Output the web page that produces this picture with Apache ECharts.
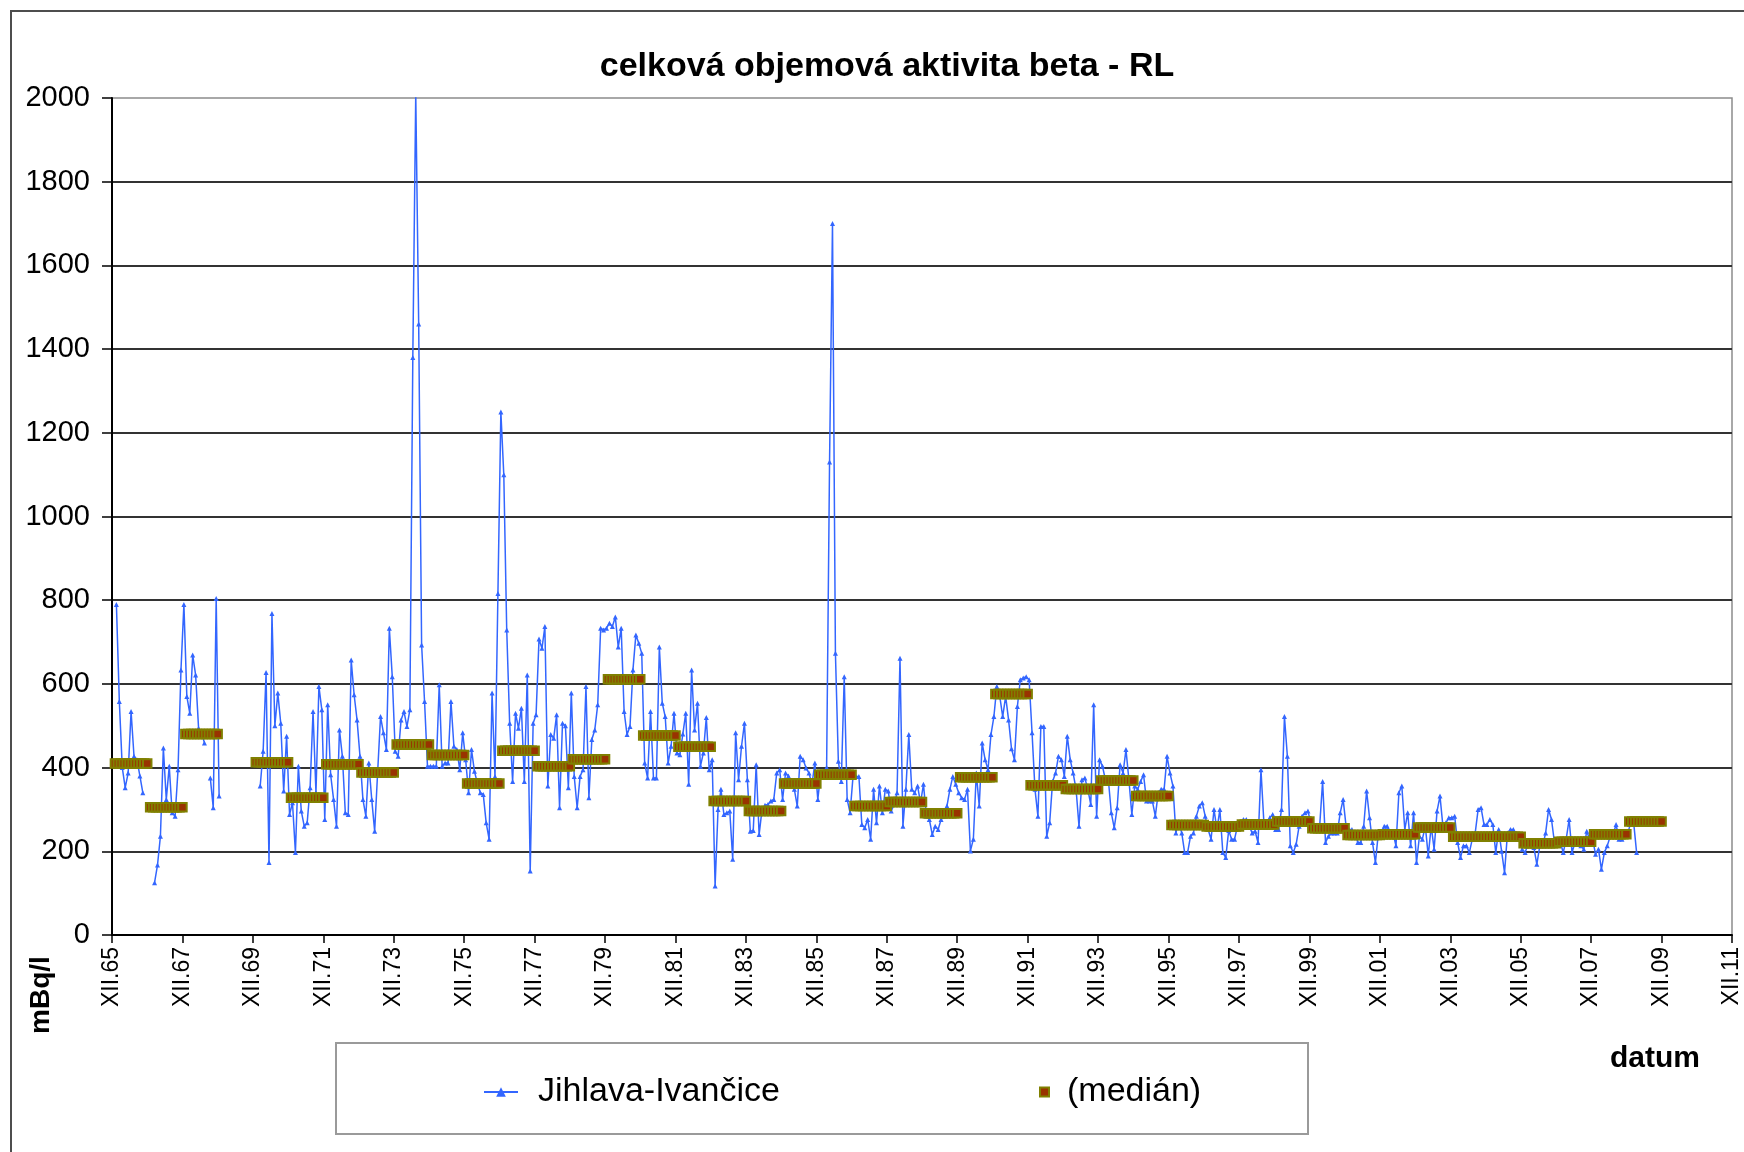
<!DOCTYPE html>
<html><head><meta charset="utf-8">
<script src="https://cdn.jsdelivr.net/npm/echarts@6/dist/echarts.min.js"></script>
<style>html,body{margin:0;padding:0;background:#fff}#c{width:1744px;height:1152px}</style>
</head><body><div id="c"></div>
<script>
// first year of the monthly rows below (row 0 = 1966, Jan..Dec)
const firstYear = 1966;
const seriesName = 'Jihlava-Ivančice';
const medianName = '(medián)';
// monthly measured values, mBq/l (null = no measurement)
const measured = [
  [790, 558, 400, 352, 387, 534, 427, 419, 380, 340, null, null],   // 1966
  [null, 125, 167, 236, 447, 324, 403, 292, 284, 395, 633, 790],    // 1967
  [570, 530, 669, 621, 494, 483, 459, null, 375, 304, 804, 332],    // 1968
  [null, null, null, null, null, null, null, null, null, null, null, null], // 1969
  [null, 356, 439, 627, 173, 768, 500, 578, 506, 344, 475, 288],    // 1970
  [316, 197, 403, 296, 260, 268, 352, 534, 340, 594, 538, 276],     // 1971
  [550, 383, 324, 260, 490, 427, 292, 288, 657, 574, 514, 427],     // 1972
  [324, 284, 411, 324, 248, 387, 522, 483, 443, 733, 617, 439],     // 1973
  [427, 514, 534, 498, 538, 1380, 2010, 1460, 693, 558, 403, 403],  // 1974
  [403, 403, 598, 403, 411, 411, 558, 451, 443, 395, 483, 419],     // 1975
  [340, 443, 391, 363, 340, 336, 268, 229, 578, 379, 816, 1250],    // 1976
  [1100, 729, 506, 367, 530, 494, 542, 367, 621, 153, 506, 526],    // 1977
  [707, 685, 737, 356, 479, 470, 526, 304, 506, 500, 352, 578],     // 1978
  [379, 304, 379, 395, 594, 328, 467, 490, 550, 733, 729, 733],     // 1979
  [745, 737, 760, 688, 733, 534, 479, 498, 633, 717, 697, 673],     // 1980
  [411, 375, 534, 375, 375, 688, 554, 522, 411, 451, 530, 435],     // 1981
  [431, 480, 530, 360, 633, 490, 554, 403, 435, 520, 395, 419],     // 1982
  [117, 300, 348, 288, 292, 296, 181, 483, 371, 451, 506, 371],     // 1983
  [248, 250, 407, 240, 300, 310, 312, 320, 324, 387, 395, 324],     // 1984
  [387, 380, 360, 348, 308, 427, 419, 399, 387, 360, 411, 324],     // 1985
  [387, 380, 400, 1130, 1700, 673, 415, 367, 617, 324, 292, 379],   // 1986
  [379, 379, 264, 256, 276, 229, 348, 268, 356, 292, 348, 344],     // 1987
  [296, 312, 340, 661, 260, 348, 479, 348, 340, 356, 316, 360],     // 1988
  [284, 276, 240, 260, 252, 276, 284, 308, 348, 379, 360, 340],     // 1989
  [328, 324, 348, 201, 229, 387, 308, 459, 419, 395, 479, 522],     // 1990
  [594, 570, 522, 570, 514, 445, 419, 546, 610, 614, 617, 610],     // 1991
  [483, 348, 284, 498, 498, 236, 268, 367, 387, 427, 419, 379],     // 1992
  [475, 419, 387, 348, 260, 371, 375, 348, 312, 550, 284, 419],     // 1993
  [403, 371, 371, 292, 256, 304, 407, 387, 443, 371, 288, 356],     // 1994
  [348, 367, 383, 320, 320, 320, 284, 340, 348, 348, 427, 387],     // 1995
  [356, 244, 268, 244, 197, 197, 236, 244, 284, 308, 316, 284],     // 1996
  [252, 229, 300, 252, 300, 197, 185, 250, 229, 229, 260, 268],     // 1997
  [276, 276, 260, 244, 248, 221, 395, 268, 268, 280, 288, 252],     // 1998
  [252, 300, 522, 427, 213, 197, 217, 260, 284, 292, 296, 268],     // 1999
  [260, 260, 260, 367, 221, 236, 244, 244, 244, 292, 324, 260],     // 2000
  [252, 252, 244, 221, 221, 260, 344, 280, 221, 173, 244, 244],     // 2001
  [260, 260, 244, 244, 213, 340, 356, 252, 292, 213, 292, 173],     // 2002
  [236, 229, 260, 189, 260, 205, 296, 332, 260, 268, 280, 280],     // 2003
  [284, 221, 185, 213, 213, 197, 229, 244, 300, 304, 264, 264],     // 2004
  [276, 264, 197, 252, 200, 149, 244, 252, 252, 240, 235, 205],     // 2005
  [197, 217, 213, 209, 169, 213, 213, 244, 300, 276, 221, 221],     // 2006
  [221, 197, 229, 276, 197, 221, 221, 213, 205, 248, 229, 229],     // 2007
  [193, 205, 157, 197, 213, 236, 240, 264, 229, 229, 240, 244],     // 2008
  [268, 268, 197, null, null, null, null, null, null, null, null, null] // 2009
];
// yearly medians, 1966..2009 (null = none)
const medians = [410, 305, 480, null, 413, 328, 408, 388, 455, 430, 362, 440, 403, 420,
  611, 477, 450, 320, 296, 362, 383, 308, 318, 291, 377, 576, 358, 349, 369, 332,
  263, 259, 264, 271, 255, 239, 241, 257, 235, 235, 219, 223, 241, 271];
// x tick labels, every 24 months from XII.1965
const xTickLabels = ['XII.65','XII.67','XII.69','XII.71','XII.73','XII.75','XII.77','XII.79',
  'XII.81','XII.83','XII.85','XII.87','XII.89','XII.91','XII.93','XII.95','XII.97','XII.99',
  'XII.01','XII.03','XII.05','XII.07','XII.09','XII.11'];

// x = month index counted from 1 December 1965; measurements sit mid-month
const lineData = [];
measured.forEach((row, i) => row.forEach((v, j) => lineData.push([i * 12 + j + 1.5, v])));
const medData = [];
medians.forEach((v, i) => { if (v != null) for (let j = 0; j < 12; j++) medData.push([i * 12 + j + 1, v]); });

const FONT = "'Liberation Sans', Arial, sans-serif";
const chart = echarts.init(document.getElementById('c'), null, {renderer: 'canvas'});
chart.setOption({
  animation: false,
  backgroundColor: '#ffffff',
  title: {
    text: 'celková objemová aktivita beta - RL',
    left: 882, top: 45, textAlign: 'center',
    textStyle: {fontSize: 34, fontWeight: 'bold', color: '#000', fontFamily: FONT}
  },
  grid: {left: 112, right: 12, top: 98, bottom: 217, show: true,
    borderColor: '#8c8c8c', borderWidth: 1.5, outerBoundsMode: 'none'},
  legend: [
    {data: [seriesName], left: 478, top: 1070, itemWidth: 34, itemHeight: 12,
      selectedMode: false,
      textStyle: {fontSize: 34, color: '#000', fontFamily: FONT, padding: [0, 0, 0, 15]}},
    {data: [medianName], left: 1034, top: 1070, itemWidth: 9, itemHeight: 9,
      selectedMode: false,
      textStyle: {fontSize: 34, color: '#000', fontFamily: FONT, padding: [0, 0, 0, 13]}}
  ],
  xAxis: {
    type: 'value', min: 0, max: 552, interval: 24,
    axisLine: {show: true, lineStyle: {color: '#000', width: 2}},
    axisTick: {show: true, length: 8, lineStyle: {color: '#000', width: 1.5}},
    axisLabel: {rotate: 90, fontSize: 23, color: '#000', fontFamily: FONT, margin: 12,
      formatter: v => xTickLabels[Math.round(v / 24)]},
    splitLine: {show: false}
  },
  yAxis: {
    type: 'value', min: 0, max: 2000, interval: 200,
    axisLine: {show: true, lineStyle: {color: '#000', width: 2}},
    axisTick: {show: true, length: 10, lineStyle: {color: '#000', width: 1.5}},
    axisLabel: {fontSize: 29, color: '#000', fontFamily: FONT, margin: 22,
      formatter: v => String(v)},
    splitLine: {show: true, showMaxLine: false, lineStyle: {color: '#333', width: 2}}
  },
  series: [
    {name: seriesName, type: 'line', data: lineData, symbol: 'triangle', symbolSize: 5,
      connectNulls: false, z: 2,
      lineStyle: {color: '#3366ff', width: 1.5}, itemStyle: {color: '#3366ff'}},
    {name: medianName, type: 'scatter', data: medData, symbol: 'rect', symbolSize: 8.5, z: 3,
      itemStyle: {color: '#993300', borderColor: '#808000', borderWidth: 2, opacity: 1}}
  ],
  graphic: [
    {type: 'rect', shape: {x: 11, y: 11, width: 1800, height: 1200},
      style: {fill: 'none', stroke: '#4d4d4d', lineWidth: 2}, silent: true},
    {type: 'rect', shape: {x: 336, y: 1043, width: 972, height: 91},
      style: {fill: 'none', stroke: '#9a9a9a', lineWidth: 2}, silent: true},
    {type: 'text', x: 1655, y: 1059,
      style: {text: 'datum', font: "bold 30px 'Liberation Sans', Arial, sans-serif",
        fill: '#000', textAlign: 'center', textVerticalAlign: 'middle'}},
    {type: 'text', x: 41, y: 995, rotation: Math.PI / 2,
      style: {text: 'mBq/l', font: "bold 28px 'Liberation Sans', Arial, sans-serif",
        fill: '#000', textAlign: 'center', textVerticalAlign: 'middle'}}
  ]
});
</script></body></html>
